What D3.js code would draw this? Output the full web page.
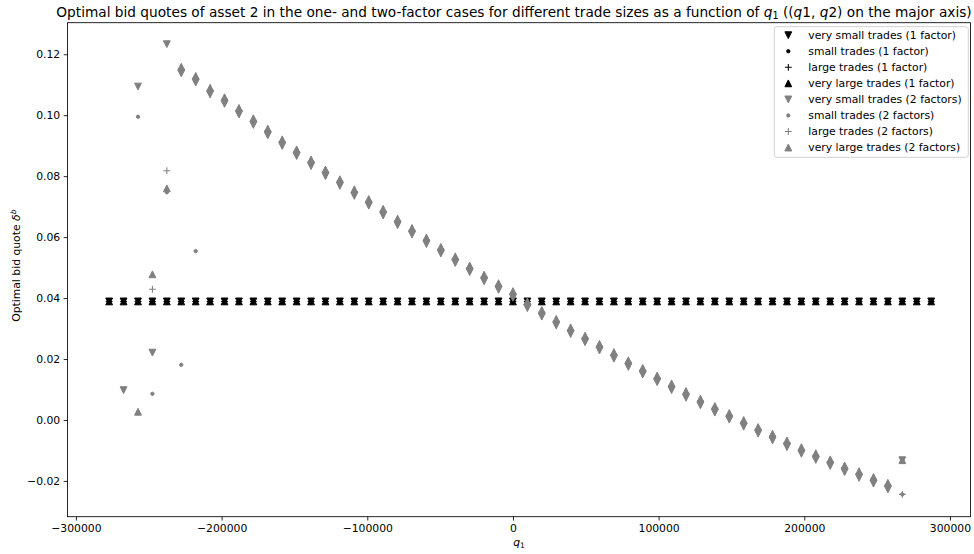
<!DOCTYPE html>
<html><head><meta charset="utf-8">
<script src="https://cdn.jsdelivr.net/npm/d3@7"></script>
<style>
html,body{margin:0;padding:0;background:#fff;}
svg text{font-family:"DejaVu Sans",sans-serif;}
</style>
</head><body>
<svg id="chart" width="974" height="554"></svg>
<script>
// ---- data ----
const q1 = [-277200, -267300, -257400, -247500, -237600, -227700, -217800, -207900, -198000, -188100, -178200, -168300, -158400, -148500, -138600, -128700, -118800, -108900, -99000, -89100, -79200, -69300, -59400, -49500, -39600, -29700, -19800, -9900, 0, 9900, 19800, 29700, 39600, 49500, 59400, 69300, 79200, 89100, 99000, 108900, 118800, 128700, 138600, 148500, 158400, 168300, 178200, 188100, 198000, 207900, 217800, 227700, 237600, 247500, 257400, 267300, 277200, 287100];

const oneFactorVerySmall = [0.0389, 0.0389, 0.0389, 0.0389, 0.0389, 0.0389, 0.0389, 0.0389, 0.0389, 0.0389, 0.0389, 0.0389, 0.0389, 0.0389, 0.0389, 0.0389, 0.0389, 0.0389, 0.0389, 0.0389, 0.0389, 0.0389, 0.0389, 0.0389, 0.0389, 0.0389, 0.0389, 0.0389, 0.0389, 0.0389, 0.0389, 0.0389, 0.0389, 0.0389, 0.0389, 0.0389, 0.0389, 0.0389, 0.0389, 0.0389, 0.0389, 0.0389, 0.0389, 0.0389, 0.0389, 0.0389, 0.0389, 0.0389, 0.0389, 0.0389, 0.0389, 0.0389, 0.0389, 0.0389, 0.0389, 0.0389, 0.0389, 0.0389];
const oneFactorSmall = [0.0389, 0.0389, 0.0389, 0.0389, 0.0389, 0.0389, 0.0389, 0.0389, 0.0389, 0.0389, 0.0389, 0.0389, 0.0389, 0.0389, 0.0389, 0.0389, 0.0389, 0.0389, 0.0389, 0.0389, 0.0389, 0.0389, 0.0389, 0.0389, 0.0389, 0.0389, 0.0389, 0.0389, 0.0389, 0.0389, 0.0389, 0.0389, 0.0389, 0.0389, 0.0389, 0.0389, 0.0389, 0.0389, 0.0389, 0.0389, 0.0389, 0.0389, 0.0389, 0.0389, 0.0389, 0.0389, 0.0389, 0.0389, 0.0389, 0.0389, 0.0389, 0.0389, 0.0389, 0.0389, 0.0389, 0.0389, 0.0389, 0.0389];
const oneFactorLarge = [0.0389, 0.0389, 0.0389, 0.0389, 0.0389, 0.0389, 0.0389, 0.0389, 0.0389, 0.0389, 0.0389, 0.0389, 0.0389, 0.0389, 0.0389, 0.0389, 0.0389, 0.0389, 0.0389, 0.0389, 0.0389, 0.0389, 0.0389, 0.0389, 0.0389, 0.0389, 0.0389, 0.0389, 0.0389, 0.0389, 0.0389, 0.0389, 0.0389, 0.0389, 0.0389, 0.0389, 0.0389, 0.0389, 0.0389, 0.0389, 0.0389, 0.0389, 0.0389, 0.0389, 0.0389, 0.0389, 0.0389, 0.0389, 0.0389, 0.0389, 0.0389, 0.0389, 0.0389, 0.0389, 0.0389, 0.0389, 0.0389, 0.0389];
const oneFactorVeryLarge = [0.0389, 0.0389, 0.0389, 0.0389, 0.0389, 0.0389, 0.0389, 0.0389, 0.0389, 0.0389, 0.0389, 0.0389, 0.0389, 0.0389, 0.0389, 0.0389, 0.0389, 0.0389, 0.0389, 0.0389, 0.0389, 0.0389, 0.0389, 0.0389, 0.0389, 0.0389, 0.0389, 0.0389, 0.0389, 0.0389, 0.0389, 0.0389, 0.0389, 0.0389, 0.0389, 0.0389, 0.0389, 0.0389, 0.0389, 0.0389, 0.0389, 0.0389, 0.0389, 0.0389, 0.0389, 0.0389, 0.0389, 0.0389, 0.0389, 0.0389, 0.0389, 0.0389, 0.0389, 0.0389, 0.0389, 0.0389, 0.0389, 0.0389];

const twoFactorVerySmall = [null, 0.0098, 0.1094, 0.0221, 0.1233, 0.1137, 0.1107, 0.1068, 0.1037, 0.1002, 0.0968, 0.0934, 0.0899, 0.0866, 0.0833, 0.0800, 0.0768, 0.0735, 0.0703, 0.0671, 0.0639, 0.0608, 0.0577, 0.0546, 0.0515, 0.0485, 0.0455, 0.0427, 0.0401, 0.0367, 0.0339, 0.0310, 0.0282, 0.0255, 0.0228, 0.0201, 0.0174, 0.0149, 0.0124, 0.0098, 0.0073, 0.0048, 0.0024, 0.0001, -0.0022, -0.0045, -0.0067, -0.0089, -0.0111, -0.0131, -0.0151, -0.0171, -0.0190, -0.0209, -0.0228, -0.0132, null, null];
const twoFactorSmall = [null, null, 0.0995, 0.0086, 0.0747, 0.0181, 0.0554, 0.1075, 0.1044, 0.1009, 0.0975, 0.0941, 0.0906, 0.0873, 0.0840, 0.0807, 0.0775, 0.0742, 0.0710, 0.0678, 0.0646, 0.0615, 0.0584, 0.0553, 0.0522, 0.0492, 0.0462, 0.0434, 0.0408, 0.0374, 0.0346, 0.0317, 0.0289, 0.0262, 0.0235, 0.0208, 0.0181, 0.0156, 0.0131, 0.0105, 0.0080, 0.0055, 0.0031, 0.0008, -0.0015, -0.0038, -0.0060, -0.0082, -0.0104, -0.0124, -0.0144, -0.0164, -0.0183, -0.0202, -0.0221, -0.0244, null, null];
const twoFactorLarge = [null, null, null, 0.0429, 0.0818, 0.1152, 0.1122, 0.1083, 0.1052, 0.1017, 0.0983, 0.0949, 0.0914, 0.0881, 0.0848, 0.0815, 0.0783, 0.0750, 0.0718, 0.0686, 0.0654, 0.0623, 0.0592, 0.0561, 0.0530, 0.0500, 0.0470, 0.0442, 0.0416, 0.0382, 0.0354, 0.0325, 0.0297, 0.0270, 0.0243, 0.0216, 0.0189, 0.0164, 0.0139, 0.0113, 0.0088, 0.0063, 0.0039, 0.0016, -0.0007, -0.0030, -0.0052, -0.0074, -0.0096, -0.0116, -0.0136, -0.0156, -0.0175, -0.0194, -0.0213, -0.0244, null, null];
const twoFactorVeryLarge = [null, null, 0.0027, 0.0478, 0.0760, 0.1159, 0.1129, 0.1090, 0.1059, 0.1024, 0.0990, 0.0956, 0.0921, 0.0888, 0.0855, 0.0822, 0.0790, 0.0757, 0.0725, 0.0693, 0.0661, 0.0630, 0.0599, 0.0568, 0.0537, 0.0507, 0.0477, 0.0449, 0.0423, 0.0389, 0.0361, 0.0332, 0.0304, 0.0277, 0.0250, 0.0223, 0.0196, 0.0171, 0.0146, 0.0120, 0.0095, 0.0070, 0.0046, 0.0023, 0.0000, -0.0023, -0.0045, -0.0067, -0.0089, -0.0109, -0.0129, -0.0149, -0.0168, -0.0187, -0.0206, -0.0132, null, null];

const seriesLabels = ["very small trades (1 factor)", "small trades (1 factor)", "large trades (1 factor)", "very large trades (1 factor)",
                      "very small trades (2 factors)", "small trades (2 factors)", "large trades (2 factors)", "very large trades (2 factors)"];
const xTicks = [-300000, -200000, -100000, 0, 100000, 200000, 300000];
const yTicks = [-0.02, 0.00, 0.02, 0.04, 0.06, 0.08, 0.10, 0.12];

// ---- layout ----
const W = 974, H = 554;
const L = 67.5, R = 970.5, T = 22.7, B = 516.7;
const BLACK = "#000000", GREY = "#808080";
const MS = 3.4; // half marker size in px

const series = [
  {label: seriesLabels[0], values: oneFactorVerySmall, shape: "tdown", color: BLACK},
  {label: seriesLabels[1], values: oneFactorSmall, shape: "point", color: BLACK},
  {label: seriesLabels[2], values: oneFactorLarge, shape: "plus", color: BLACK},
  {label: seriesLabels[3], values: oneFactorVeryLarge, shape: "tup", color: BLACK},
  {label: seriesLabels[4], values: twoFactorVerySmall, shape: "tdown", color: GREY},
  {label: seriesLabels[5], values: twoFactorSmall, shape: "point", color: GREY},
  {label: seriesLabels[6], values: twoFactorLarge, shape: "plus", color: GREY},
  {label: seriesLabels[7], values: twoFactorVeryLarge, shape: "tup", color: GREY}
];

const svg = d3.select("#chart");
const x = d3.scaleLinear().domain([-305800, 314100]).range([L, R]);
const y = d3.scaleLinear().domain([-0.03173, 0.13035]).range([B, T]);

function drawMarker(g, shape, color) {
  const s = MS;
  if (shape === "tdown") {
    g.append("path").attr("d", `M${-s},${-s}L${s},${-s}L0,${s}Z`)
      .attr("fill", color).attr("stroke", color).attr("stroke-width", 1).attr("stroke-linejoin", "miter");
  } else if (shape === "tup") {
    g.append("path").attr("d", `M0,${-s}L${-s},${s}L${s},${s}Z`)
      .attr("fill", color).attr("stroke", color).attr("stroke-width", 1).attr("stroke-linejoin", "miter");
  } else if (shape === "point") {
    g.append("circle").attr("r", 1.65).attr("fill", color).attr("stroke", color).attr("stroke-width", 1);
  } else if (shape === "plus") {
    g.append("path").attr("d", `M${-s},0H${s}M0,${-s}V${s}`)
      .attr("fill", "none").attr("stroke", color).attr("stroke-width", 1.05);
  }
}

// frame background
svg.append("rect").attr("x", 0).attr("y", 0).attr("width", W).attr("height", H).attr("fill", "#fff");

// markers
const plot = svg.append("g");
series.forEach(s => {
  const pts = q1.map((q, i) => ({q, v: s.values[i]})).filter(d => d.v !== null && d.v !== undefined);
  plot.append("g").selectAll("g").data(pts).join("g")
    .attr("transform", d => `translate(${x(d.q)},${y(d.v)})`)
    .each(function() { drawMarker(d3.select(this), s.shape, s.color); });
});

// axes
const fmtY = d3.format(".2f");
const xAxis = d3.axisBottom(x).tickValues(xTicks).tickFormat(d3.format("d")).tickSize(3.8).tickPadding(3.5);
const yAxis = d3.axisLeft(y).tickValues(yTicks).tickFormat(fmtY).tickSize(3.8).tickPadding(3.5);
const gx = svg.append("g").attr("transform", `translate(0,${B})`).call(xAxis);
const gy = svg.append("g").attr("transform", `translate(${L},0)`).call(yAxis);
[gx, gy].forEach(g => {
  g.select(".domain").remove();
  g.selectAll(".tick line").attr("stroke", "#000").attr("stroke-width", 0.85);
  g.selectAll(".tick text").attr("fill", "#000").style("font-size", "10.8px").style("font-family", "DejaVu Sans");
});

// spines
svg.append("rect").attr("x", L).attr("y", T).attr("width", R - L).attr("height", B - T)
  .attr("fill", "none").attr("stroke", "#000").attr("stroke-width", 0.85);

// title
const title = svg.append("text").attr("x", (L + R) / 2 - 5).attr("y", 16.5).attr("text-anchor", "middle")
  .style("font-size", "13.7px").attr("fill", "#000");
title.append("tspan").text("Optimal bid quotes of asset 2 in the one- and two-factor cases for different trade sizes as a function of ");
title.append("tspan").attr("font-style", "italic").text("q");
title.append("tspan").attr("font-size", "9.6px").attr("dy", 2.7).text("1");
title.append("tspan").attr("dy", -2.7).text(" ((");
title.append("tspan").attr("font-style", "italic").text("q");
title.append("tspan").text("1, ");
title.append("tspan").attr("font-style", "italic").text("q");
title.append("tspan").text("2) on the major axis)");

// x label
const xl = svg.append("text").attr("x", (L + R) / 2).attr("y", 546).attr("text-anchor", "middle")
  .style("font-size", "10.8px").attr("fill", "#000");
xl.append("tspan").attr("font-style", "italic").text("q");
xl.append("tspan").attr("font-size", "7.6px").attr("dy", 2.2).text("1");

// y label
const yl = svg.append("text").attr("transform", `translate(20,${(T + B) / 2 - 4}) rotate(-90)`)
  .attr("text-anchor", "middle").style("font-size", "10.8px").attr("fill", "#000");
yl.append("tspan").text("Optimal bid quote ");
yl.append("tspan").attr("font-style", "italic").text("δ");
yl.append("tspan").attr("font-style", "italic").attr("font-size", "7.6px").attr("dy", -4.5).text("b");

// legend
const lg = svg.append("g");
lg.append("rect").attr("x", 774.3).attr("y", 26.7).attr("width", 194).attr("height", 130.6)
  .attr("rx", 2.5).attr("fill", "#fff").attr("fill-opacity", 0.8).attr("stroke", "#cccccc").attr("stroke-width", 0.9);
series.forEach((s, i) => {
  const yy = 35.2 + i * 16.05;
  const m = lg.append("g").attr("transform", `translate(788.3,${yy})`);
  drawMarker(m, s.shape, s.color);
  lg.append("text").attr("x", 808.3).attr("y", yy).attr("dy", "0.36em")
    .style("font-size", "10.8px").attr("fill", "#000").text(s.label);
});
</script>
</body></html>
